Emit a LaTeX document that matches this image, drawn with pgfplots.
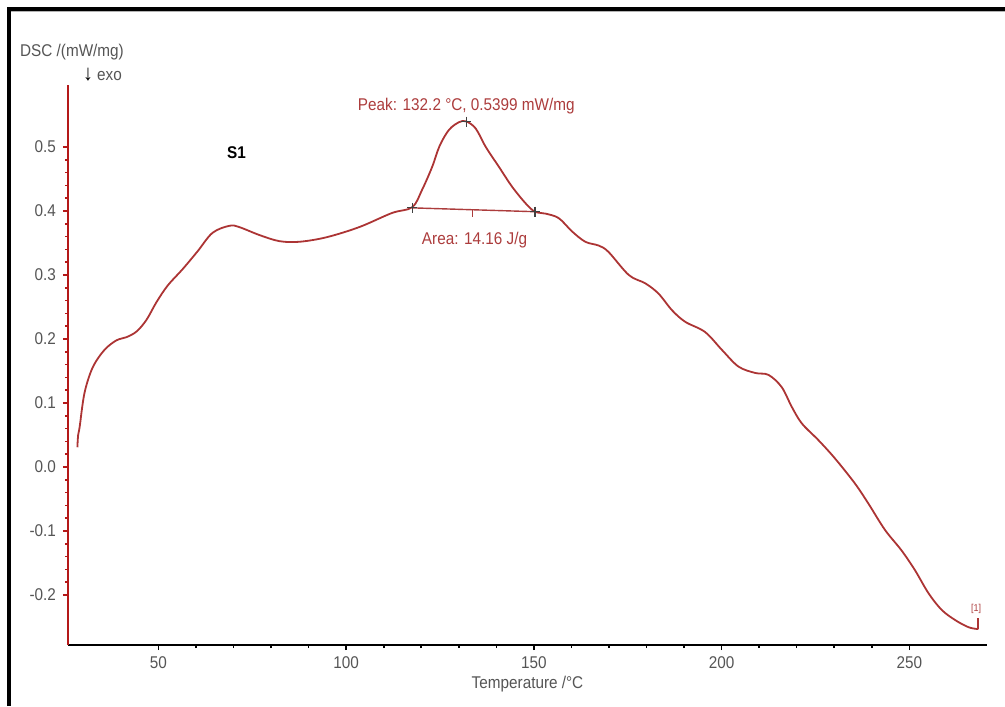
\documentclass[border=0pt]{standalone}
\usepackage{pgfplots}
\pgfplotsset{compat=1.18}
\usepackage{fontspec}
\setmainfont{Liberation Sans}[FakeStretch=0.9]
\definecolor{curve}{RGB}{172,52,52}
\definecolor{yax}{RGB}{180,25,25}
\definecolor{annot}{RGB}{172,60,60}
\definecolor{lab}{RGB}{85,85,85}
\begin{document}
\begin{tikzpicture}
\useasboundingbox (0,0) rectangle (502.5pt,353pt);
\draw[line width=2pt] (4.5pt,0pt) -- (4.5pt,348.5pt) -- (502.5pt,348.5pt);
\draw[gray!60, line width=0.6pt] (5.5pt,347.2pt) -- (502.5pt,347.2pt);
\begin{axis}[
  at={(34pt,30.5pt)}, anchor=south west,
  scale only axis, width=459.5pt, height=280pt,
  xmin=25.9, xmax=270.7, ymin=-0.278, ymax=0.597,
  axis x line*=bottom, axis y line*=left,
  x axis line style={-, black, line width=1.3pt},
  y axis line style={-, yax, line width=0.9pt},
  xtick={50,100,150,200,250}, xticklabels={50,100,150,200,250},
  ytick={-0.2,-0.1,0,0.1,0.2,0.3,0.4,0.5},
  yticklabels={-0.2,-0.1,0.0,0.1,0.2,0.3,0.4,0.5},
  minor x tick num=4, minor y tick num=4,
  tick align=outside,
  major tick length=2.5pt, minor tick length=1.5pt,
  x tick style={black, line width=0.8pt},
  y tick style={yax, line width=0.8pt},
  tick label style={font=\fontsize{8.5}{10}\selectfont, text=lab},
  xlabel={Temperature /°C},
  xlabel style={at={(rel axis cs:0.5,0)}, anchor=center, yshift=-19.5pt, font=\fontsize{8.5}{10}\selectfont, text=lab},
  clip=false,
]
\addplot[curve, line width=0.9pt, smooth, tension=0.55] coordinates {
(28.4,0.031) (28.6,0.050) (29.0,0.0625) (30.3,0.116) (32.5,0.156) (35.6,0.183)
(38.8,0.198) (41.5,0.203) (44.2,0.212) (46.8,0.230) (49.5,0.258) (52.5,0.284)
(56.4,0.309) (60.4,0.337) (64.4,0.366) (68.9,0.377) (71.5,0.375) (76.9,0.3625)
(82.2,0.353) (87.5,0.352) (94.7,0.359) (103.5,0.375) (112.2,0.397) (117.6,0.406)
(120.2,0.433) (122.9,0.469) (124.9,0.502) (127.4,0.527) (130.1,0.539) (132.0,0.540)
(134.5,0.529) (137.2,0.500) (140.7,0.469) (144.2,0.438) (147.8,0.412) (150.3,0.399)
(153.1,0.396) (156.6,0.389) (160.2,0.368) (163.7,0.352) (167.3,0.346) (169.9,0.336)
(175.3,0.300) (179.7,0.287) (183.2,0.271) (186.8,0.245) (190.3,0.227) (195.6,0.211)
(200.1,0.183) (204.5,0.157) (209.0,0.147) (212.5,0.144) (216.0,0.125) (218.7,0.094)
(221.4,0.068) (225.8,0.042) (230.2,0.0135) (235.5,-0.0255) (239.1,-0.057) (243.5,-0.098)
(247.9,-0.130) (251.5,-0.161) (255.1,-0.197) (258.6,-0.223) (262.2,-0.239) (265.7,-0.250)
(268.0,-0.253) (268.4,-0.253)
};
\addplot[curve, line width=0.9pt] coordinates {(268.4,-0.253) (268.4,-0.236)};
\addplot[annot, line width=0.7pt] coordinates {(117.6,0.405) (150.3,0.399)};
\addplot[annot, line width=0.7pt] coordinates {(133.6,0.402) (133.6,0.390)};
\addplot[only marks, mark=+, mark size=2.5pt, black!75, line width=0.6pt] coordinates {(117.6,0.405) (132.0,0.5399) (150.3,0.399)};
\node[text=annot, font=\fontsize{8.5}{10}\selectfont] at (axis cs:132.0,0.564) {Peak: 132.2 °C, 0.5399 mW/mg};
\node[text=annot, font=\fontsize{8.5}{10}\selectfont] at (axis cs:134.2,0.355) {Area: 14.16 J/g};
\node[text=black, font=\bfseries\fontsize{8.5}{10}\selectfont] at (axis cs:70.8,0.492) {S1};
\node[text=annot, font=\fontsize{5}{6}\selectfont, inner sep=0pt] at (axis cs:267.8,-0.222) {[1]};
\node[text=lab, font=\fontsize{8.5}{10}\selectfont, xshift=2pt, yshift=16.5pt] at (rel axis cs:0,1) {DSC /(mW/mg)};
\node[text=lab, font=\fontsize{8.5}{10}\selectfont, anchor=west, xshift=4pt, yshift=5pt] at (rel axis cs:0,1) {\textcolor{black}{\fontsize{11}{11}\selectfont ↓} exo};
\end{axis}
\end{tikzpicture}
\end{document}
